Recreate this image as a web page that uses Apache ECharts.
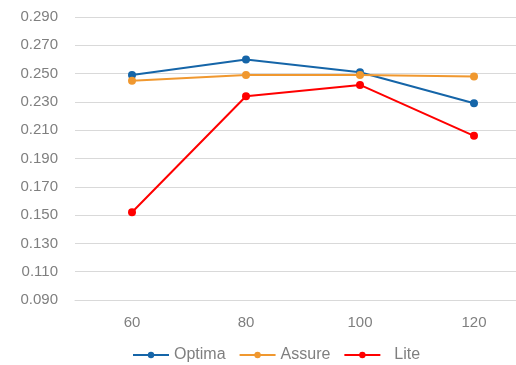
<!DOCTYPE html>
<html>
<head>
<meta charset="utf-8">
<script src="https://cdn.jsdelivr.net/npm/echarts@6/dist/echarts.min.js"></script>
<style>
    html, body { margin: 0; padding: 0; background: #fff; overflow: hidden; }
    /* plot area runs past the right edge of the window, as in the source picture */
    #chart { width: 531px; height: 365px; }
</style>
</head>
<body>
<div id="chart"></div>
<script>
    // data
    var categories = ['60', '80', '100', '120'];
    var optima = [0.249, 0.260, 0.251, 0.229];
    var assure = [0.245, 0.249, 0.249, 0.248];
    var lite = [0.152, 0.234, 0.242, 0.206];

    var textColor = '#7f7f7f';
    var fontFamily = '"Liberation Sans", Arial, sans-serif';

    var myChart = echarts.init(document.getElementById('chart'));

    function lineSeries(name, data, color) {
        return {
            type: 'line',
            name: name,
            data: data,
            symbol: 'circle',
            symbolSize: 8,
            showSymbol: true,
            lineStyle: { color: color, width: 2 },
            itemStyle: { color: color },
            animation: false
        };
    }

    var option = {
        backgroundColor: '#fff',
        textStyle: { fontFamily: fontFamily },
        grid: {
            left: 75,
            right: 0,
            top: 17,
            bottom: 65,
            containLabel: false
        },
        legend: {
            top: 342,
            left: 127,
            itemWidth: 36,
            itemHeight: 8,
            itemGap: 13,
            textStyle: { color: textColor, fontSize: 16, fontFamily: fontFamily },
            data: ['Optima', 'Assure', '  Lite']
        },
        xAxis: {
            type: 'category',
            data: categories,
            boundaryGap: true,
            axisLine: { show: true, lineStyle: { color: '#d9d9d9' } },
            axisTick: { show: false },
            axisLabel: { color: textColor, fontSize: 15, margin: 15 },
            splitLine: { show: false }
        },
        yAxis: {
            type: 'value',
            min: 0.09,
            max: 0.29,
            interval: 0.02,
            axisLine: { show: false },
            axisTick: { show: false },
            axisLabel: {
                color: textColor,
                fontSize: 15,
                margin: 17,
                formatter: function (v) { return v.toFixed(3); }
            },
            splitLine: { lineStyle: { color: '#d9d9d9', width: 1 } }
        },
        series: [
            lineSeries('Optima', optima, '#1565a8'),
            lineSeries('Assure', assure, '#f0982f'),
            lineSeries('  Lite', lite, '#ff0000')
        ]
    };

    myChart.setOption(option);
</script>
</body>
</html>
